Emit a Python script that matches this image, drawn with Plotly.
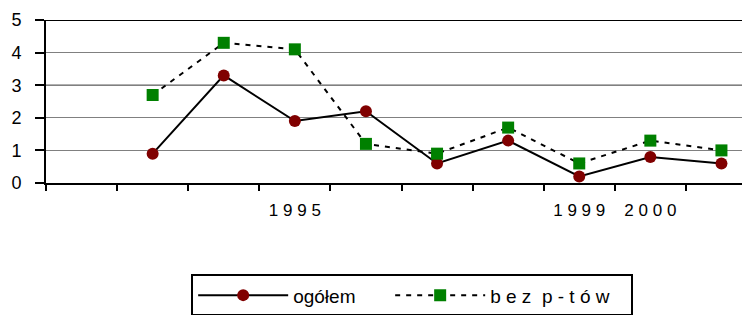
import plotly.graph_objects as go

years = ["1992", "1993", "1994", "1995", "1996", "1997", "1998", "1999", "2000", "2001"]
year_labels = ["", "", "", "1 9 9 5", "", "", "", "1 9 9 9", "2 0 0 0", ""]
ogolem = [None, 0.9, 3.3, 1.9, 2.2, 0.6, 1.3, 0.2, 0.8, 0.6]
bez_ptow = [None, 2.7, 4.3, 4.1, 1.2, 0.9, 1.7, 0.6, 1.3, 1.0]
y_ticks = [0, 1, 2, 3, 4, 5]

FONT = "Liberation Sans, Arial, sans-serif"

fig = go.Figure()
fig.add_trace(go.Scatter(
    x=years, y=ogolem, name="ogółem", mode="lines+markers",
    line=dict(color="black", width=2),
    marker=dict(symbol="circle", size=12, color="#800000"),
    legendwidth=92,
))
fig.add_trace(go.Scatter(
    x=years, y=bez_ptow, name="b e z  p - t ó w", mode="lines+markers",
    line=dict(color="black", width=2, dash="5px,6px"),
    marker=dict(symbol="square", size=12, color="#008000"),
    legendwidth=136,
))

fig.update_layout(
    width=750, height=315,
    margin=dict(l=38, r=1, t=12, b=140),
    plot_bgcolor="white", paper_bgcolor="white",
    font=dict(family=FONT, color="black"),
    showlegend=True,
    legend=dict(
        orientation="h", x=0.515, xanchor="center", y=-0.56, yanchor="top",
        bordercolor="black", borderwidth=2, font=dict(size=19, family=FONT),
        itemwidth=90,
    ),
    xaxis=dict(
        type="category", range=[-0.5, 9.5], automargin=False,
        tickmode="array", tickvals=years, ticktext=year_labels,
        tickson="boundaries", ticks="outside", ticklen=6, tickwidth=2, tickcolor="black",
        showline=True, linecolor="black", linewidth=2, ticklabelstandoff=11,
        showgrid=False, tickfont=dict(size=17, family=FONT), zeroline=False,
    ),
    yaxis=dict(
        range=[0, 5], tickvals=y_ticks, ticks="outside", ticklen=9, tickwidth=2,
        tickcolor="black", showline=True, linecolor="black", linewidth=2,
        showgrid=True, gridcolor="#808080", gridwidth=1, zeroline=False,
        tickfont=dict(size=18, family=FONT), automargin=False, ticklabelstandoff=10,
    ),
)
fig.add_shape(type="line", xref="paper", yref="y", x0=0, x1=1, y0=5, y1=5,
              line=dict(color="black", width=2))
fig.add_shape(type="line", xref="paper", yref="y", x0=0, x1=1, y0=3, y1=3,
              line=dict(color="black", width=1), layer="below")

fig.write_html("out.html")
